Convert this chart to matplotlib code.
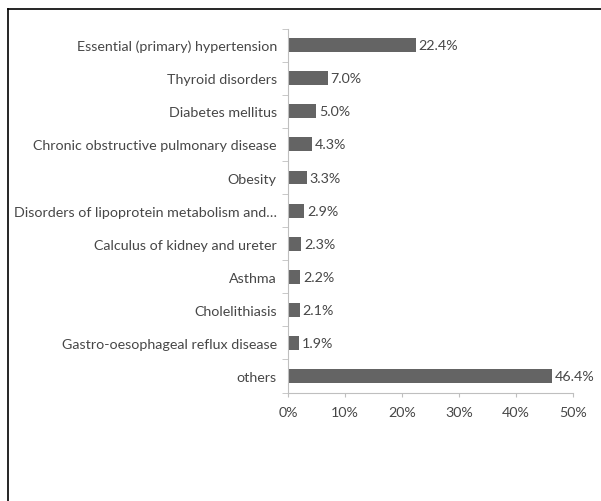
import matplotlib
matplotlib.use("Agg")
import matplotlib.pyplot as plt
from matplotlib.lines import Line2D
import numpy as np

# chart data
conditions = [
    "Essential (primary) hypertension",
    "Thyroid disorders",
    "Diabetes mellitus",
    "Chronic obstructive pulmonary disease",
    "Obesity",
    "Disorders of lipoprotein metabolism and\u2026",
    "Calculus of kidney and ureter",
    "Asthma",
    "Cholelithiasis",
    "Gastro-oesophageal reflux disease",
    "others",
]
shares = [22.4, 7.0, 5.0, 4.3, 3.3, 2.9, 2.3, 2.2, 2.1, 1.9, 46.4]
x_ticks = [0, 10, 20, 30, 40, 50]
x_tick_labels = ["0%", "10%", "20%", "30%", "40%", "50%"]

plt.rcParams["font.family"] = ["Lato", "DejaVu Sans"]
text_color = "#474747"
bar_color = "#646464"
axis_color = "#bfbfbf"
fs = 10.3

fig = plt.figure(figsize=(6.01, 5.02), dpi=100)
ax = fig.add_axes([0.479, 0.216, 0.474, 0.725])

y = np.arange(len(conditions))
ax.barh(y, shares, height=0.42, color=bar_color)
for yi, v in zip(y, shares):
    ax.text(v + 0.5, yi, f"{v:.1f}%", va="center", ha="left",
            fontsize=fs, color=text_color)

ax.set_ylim(len(conditions) - 0.5, -0.5)
ax.set_xlim(0, 50)
ax.set_yticks(y)
ax.set_yticklabels(conditions, fontsize=fs, color=text_color)
ax.tick_params(axis="y", length=0, pad=8)
ax.set_yticks(np.arange(-0.5, len(conditions), 1), minor=True)
ax.tick_params(axis="y", which="minor", length=4, color=axis_color, direction="out")
ax.set_xticks(x_ticks)
ax.set_xticklabels(x_tick_labels, fontsize=fs, color=text_color)
ax.tick_params(axis="x", length=3, color=axis_color, pad=7)

for s in ["top", "right"]:
    ax.spines[s].set_visible(False)
for s in ["left", "bottom"]:
    ax.spines[s].set_color(axis_color)
    ax.spines[s].set_linewidth(0.8)

# partial frame (top and left edges)
fig.add_artist(Line2D([8 / 601, 1.0], [1 - 9.5 / 502, 1 - 9.5 / 502],
                      transform=fig.transFigure, color="black", lw=1.2))
fig.add_artist(Line2D([8 / 601, 8 / 601], [0.0, 1 - 9.5 / 502],
                      transform=fig.transFigure, color="black", lw=1.2))

fig.savefig("out.png", dpi=100)
